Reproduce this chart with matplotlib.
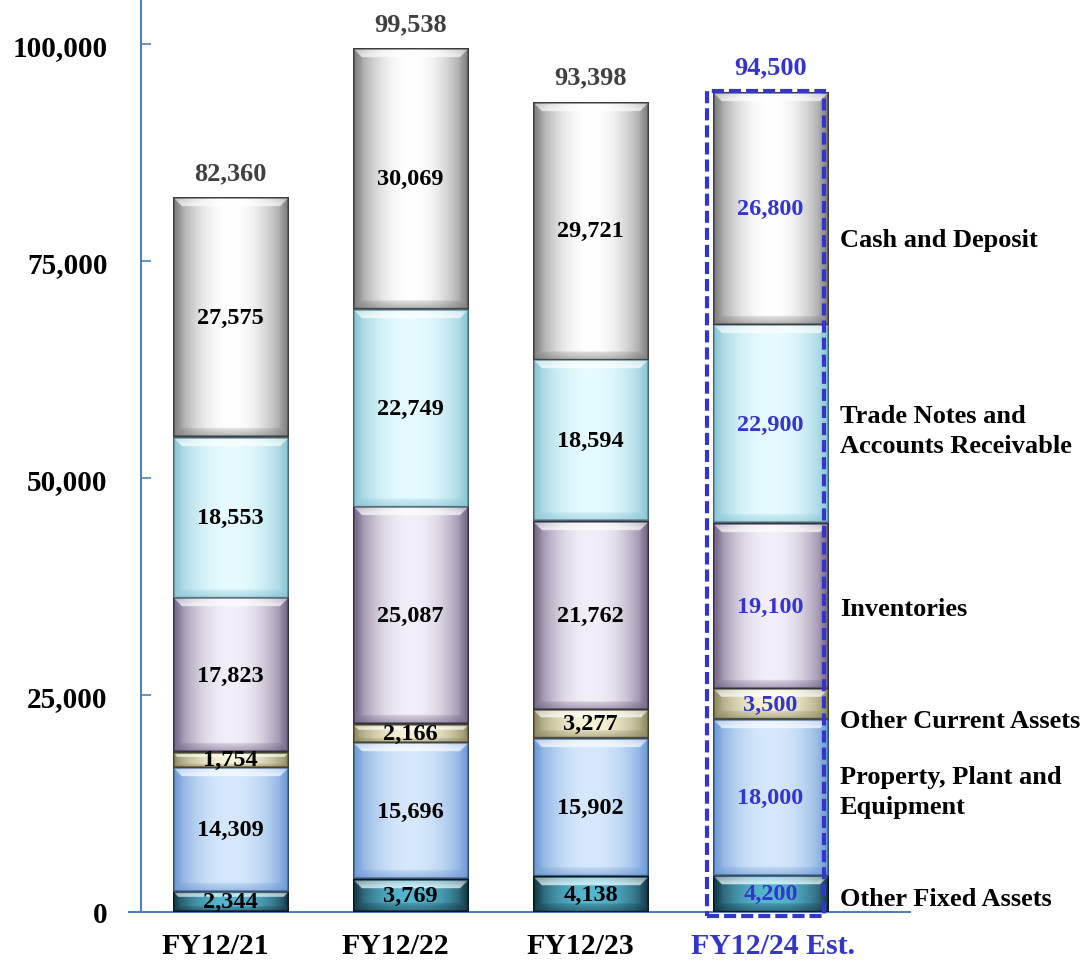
import numpy as np
import matplotlib
matplotlib.use("Agg")
import matplotlib.pyplot as plt
from matplotlib.colors import to_rgb
from matplotlib.patches import Rectangle
from matplotlib.ticker import FuncFormatter

plt.rcParams['font.family'] = ['Liberation Serif', 'DejaVu Serif']
plt.rcParams['font.weight'] = 'bold'

# Total assets breakdown (million yen)
years = ['FY12/21', 'FY12/22', 'FY12/23', 'FY12/24 Est.']
other_fixed = [2344, 3769, 4138, 4200]
ppe = [14309, 15696, 15902, 18000]
other_current = [1754, 2166, 3277, 3500]
inventories = [17823, 25087, 21762, 19100]
receivables = [18553, 22749, 18594, 22900]
cash = [27575, 30069, 29721, 26800]
totals = [82360, 99538, 93398, 94500]

series = [other_fixed, ppe, other_current, inventories, receivables, cash]
names = ['Other Fixed Assets', 'Property, Plant and\nEquipment', 'Other Current Assets',
         'Inventories', 'Trade Notes and\nAccounts Receivable', 'Cash and Deposit']
# (centre colour, edge colour) for the bevelled blocks
shades = [('#55b6d0', '#0e2a38'),
          ('#d6e8fc', '#5f8fd0'),
          ('#f6f2d4', '#7f7a50'),
          ('#f3eef8', '#65567a'),
          ('#e6fbff', '#7fbfd0'),
          ('#ffffff', '#6e6e6e')]
name_y = [1600, 13900, 22100, 35000, 55500, 77500]
label_shift = [-15, -15, -10, 3]   # px nudge of the category labels

BLUE = '#3535cc'
AXIS = '#4f81bd'


def bevel_image(light, dark, w_px, h_px, scale=2):
    W = max(int(w_px * scale), 2)
    H = max(int(h_px * scale), 2)
    X, Y = np.meshgrid((np.arange(W) + 0.5) / scale, (np.arange(H) + 0.5) / scale)
    dl, dr, dt, db = X, w_px - X, Y, h_px - Y
    b = min(9.0, h_px * 0.28)
    light = np.array(to_rgb(light))
    dark = np.array(to_rgb(dark))
    prof = 1 - np.abs(2 * X / w_px - 1) ** 2.2
    img = dark + (light - dark) * (0.15 + 0.85 * prof)[..., None]
    side_d = np.minimum(dl, dr)
    top = (dt <= side_d) & (dt <= db) & (dt < b)
    bottom = (db < dt) & (db <= side_d) & (db < b)
    side = (side_d < np.minimum(dt, db)) & (side_d < b)
    kt = (0.35 + 0.4 * dt / b)[..., None]
    img = np.where(top[..., None], img * (1 - kt) + kt, img)
    kb = (0.2 + 0.35 * (1 - db / b))[..., None]
    img = np.where(bottom[..., None], img * (1 - kb) + dark * kb, img)
    ks = (0.1 + 0.35 * (1 - side_d / b))[..., None]
    img = np.where(side[..., None], img * (1 - ks) + dark * ks, img)
    edge = np.minimum.reduce([dl, dr, dt, db]) < 1.6
    img[edge] = dark * 0.55
    return np.clip(img, 0, 1)


fig = plt.figure(figsize=(10.83, 9.62), dpi=100)
ax = fig.add_axes([141 / 1083, 49 / 962, 769 / 1083, 911 / 962])
xlim = (-0.497, 3.775)
ylim = (0, 105000)
ax.set_xlim(*xlim)
ax.set_ylim(*ylim)

x = np.arange(len(years))
width = 0.64
px_x = ax.transData.transform((1, 0))[0] - ax.transData.transform((0, 0))[0]
px_y = (ax.transData.transform((0, 1000))[1] - ax.transData.transform((0, 0))[1]) / 1000

bottoms = np.zeros(len(years))
for vals, (light, dark) in zip(series, shades):
    for i, v in enumerate(vals):
        img = bevel_image(light, dark, width * px_x, v * px_y)
        ax.imshow(img, extent=(x[i] - width / 2, x[i] + width / 2, bottoms[i], bottoms[i] + v),
                  aspect='auto', interpolation='bilinear', zorder=2)
        ax.text(x[i], bottoms[i] + v / 2, f'{v:,}', ha='center', va='center',
                fontsize=17.5, fontweight='bold', color=BLUE if i == 3 else 'black', zorder=4)
    bottoms += np.array(vals)

for i, t in enumerate(totals):
    ax.annotate(f'{t:,}', (x[i], t), xytext=(0, 18), textcoords='offset points',
                ha='center', va='center', fontsize=19, fontweight='bold',
                color=BLUE if i == 3 else '#404040')

for name, y in zip(names, name_y):
    ax.text(3.386, y, name, ha='left', va='center', fontsize=19, fontweight='bold',
            linespacing=1.35, color='black')

# category labels under the bars
for i, yr in enumerate(years):
    ax.annotate(yr, (x[i], 0), xytext=(label_shift[i] * 0.72, -24), textcoords='offset points',
                ha='center', va='center', fontsize=21.5, fontweight='bold',
                color=BLUE if i == 3 else 'black', annotation_clip=False)

# estimate column outline
ax.add_patch(Rectangle((3 - 0.35, -500), 0.65, totals[3] + 650, fill=False,
                       edgecolor=BLUE, lw=3, linestyle=(0, (2.9, 1.2)), zorder=5,
                       clip_on=False))

ax.set_xlim(*xlim)
ax.set_ylim(*ylim)
ax.set_yticks(range(0, 100001, 25000))
ax.yaxis.set_major_formatter(FuncFormatter(lambda v, p: f'{int(v):,}'))
ax.tick_params(axis='y', direction='in', length=7, width=1.2, color=AXIS, pad=24,
               labelsize=21)
ax.set_xticks([])
for lbl in ax.get_yticklabels():
    lbl.set_fontweight('bold')

for s in ['top', 'right', 'bottom']:
    ax.spines[s].set_visible(False)
ax.spines['left'].set_color(AXIS)
ax.spines['left'].set_linewidth(1.5)
ax.axhline(0, xmin=-0.015, xmax=1.0, color=AXIS, lw=1.5, clip_on=False, zorder=1)

fig.savefig('out.png', dpi=100)
